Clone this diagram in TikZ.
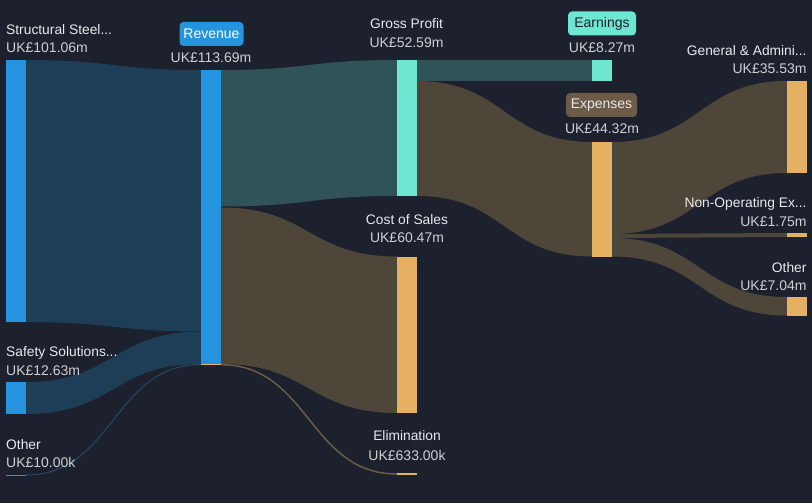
\documentclass[tikz,border=0pt]{standalone}
\usepackage{fontspec}
\setmainfont{Liberation Sans}
\definecolor{bg}{HTML}{1C212D}
\definecolor{barblue}{HTML}{2494DF}
\definecolor{barteal}{HTML}{6EE6D2}
\definecolor{barorange}{HTML}{E6B062}
\definecolor{flowblue}{HTML}{1E3D56}
\definecolor{flowteal}{HTML}{2F5356}
\definecolor{flowbrown}{HTML}{4E4639}
\definecolor{thinbrown}{HTML}{6A5C48}
\definecolor{thinblue}{HTML}{23496A}
\definecolor{badgebrown}{HTML}{6C5B46}
\definecolor{labeltext}{HTML}{E8E9EB}
\definecolor{valuetext}{HTML}{CDCFD3}
\newcommand\flowband[7]{%
  \pgfmathsetmacro\fxm{(#2+#5)/2}%
  \fill[#1] (#2,#3) .. controls (\fxm,#3) and (\fxm,#6) .. (#5,#6) -- (#5,#7)
    .. controls (\fxm,#7) and (\fxm,#4) .. (#2,#4) -- cycle;}
\tikzset{
  bar/.style={inner sep=0pt, outer sep=0pt, minimum width=20pt, anchor=north west},
  lbl/.style={inner sep=0pt, text=labeltext, font=\fontsize{13.8}{16}\selectfont, anchor=base},
  val/.style={inner sep=0pt, text=valuetext, font=\fontsize{14}{16}\selectfont, anchor=base},
  badge/.style={rounded corners=4pt, inner sep=0pt, minimum height=24pt,
    font=\fontsize{14}{16}\selectfont},
}
\begin{document}
\begin{tikzpicture}[x=1pt,y=-1pt]
\fill[bg] (0,0) rectangle (812,503);
\useasboundingbox (0,0) rectangle (812,503);
% flows
\flowband{flowblue}{26}{60}{322}{201}{70}{331.5}
\flowband{flowblue}{26}{382}{414}{201}{331.5}{364}
\draw[thinblue, line width=1pt] (26,475) .. controls (113.5,475) and (113.5,364.5) .. (201,364.5);
\flowband{flowteal}{221}{70}{206.5}{397}{60}{196}
\flowband{flowbrown}{221}{207.5}{364}{397}{256.5}{413}
\draw[thinbrown, line width=1.5pt] (221,364.7) .. controls (309,364.7) and (309,474) .. (397,474);
\flowband{flowteal}{417}{60}{81}{592}{60}{81}
\flowband{flowbrown}{417}{81}{196}{592}{142}{256.5}
\flowband{flowbrown}{612}{142}{234}{787}{81}{173}
\flowband{flowbrown}{612}{234}{238}{787}{233}{237}
\flowband{flowbrown}{612}{238}{256.5}{787}{297}{315.5}
% bars
\node[bar, fill=barblue, minimum height=262pt] (ss) at (6,60) {};
\node[bar, fill=barblue, minimum height=32pt] (safety) at (6,382) {};
\node[bar, fill=barblue, minimum height=1.2pt] (otherl) at (6,474.5) {};
\node[bar, fill=barblue, minimum height=294pt] (rev) at (201,70) {};
\node[bar, fill=barorange, minimum height=1.6pt] (revelim) at (201,363.8) {};
\node[bar, fill=barteal, minimum height=136pt] (gp) at (397,60) {};
\node[bar, fill=barorange, minimum height=156.5pt] (cos) at (397,256.5) {};
\node[bar, fill=barorange, minimum height=1.8pt] (elim) at (397,473.2) {};
\node[bar, fill=barteal, minimum height=21pt] (earn) at (592,60) {};
\node[bar, fill=barorange, minimum height=114.5pt] (exp) at (592,142) {};
\node[bar, fill=barorange, minimum height=92pt] (ga) at (787,81) {};
\node[bar, fill=barorange, minimum height=4pt] (nonop) at (787,233) {};
\node[bar, fill=barorange, minimum height=18.5pt] (otherr) at (787,297) {};
% labels
\node[lbl, anchor=base west] (tss) at (6,34.3) {Structural Steel...};
\node[val, anchor=base west] (vss) at (6,53) {UK£101.06m};
\node[lbl, anchor=base west] (tsafety) at (6,356.7) {Safety Solutions...};
\node[val, anchor=base west] (vsafety) at (6,375.3) {UK£12.63m};
\node[lbl, anchor=base west] (totherl) at (6,449) {Other};
\node[val, anchor=base west] (votherl) at (6,467.7) {UK£10.00k};
\node[badge, fill=barblue, text=white, minimum width=64pt] (trev) at (211.5,34) {Revenue};
\node[val] (vrev) at (211,63) {UK£113.69m};
\node[lbl] (tgp) at (406.5,28.3) {Gross Profit};
\node[val] (vgp) at (406.5,47.3) {UK£52.59m};
\node[lbl] (tcos) at (407,224) {Cost of Sales};
\node[val] (vcos) at (407,242.7) {UK£60.47m};
\node[lbl] (telim) at (407,440.7) {Elimination};
\node[val] (velim) at (407,460) {UK£633.00k};
\node[badge, fill=barteal, text=bg, minimum width=68pt] (tearn) at (602,23.5) {Earnings};
\node[val] (vearn) at (602,52.7) {UK£8.27m};
\node[badge, fill=badgebrown, text=labeltext, minimum width=71pt] (texp) at (601.5,105) {Expenses};
\node[val] (vexp) at (602,133.3) {UK£44.32m};
\node[lbl, anchor=base east] (tga) at (806.7,55.7) {General \& Admini...};
\node[val, anchor=base east] (vga) at (806.7,74) {UK£35.53m};
\node[lbl, anchor=base east] (tnonop) at (806.7,207.3) {Non-Operating Ex...};
\node[val, anchor=base east] (vnonop) at (806.7,226) {UK£1.75m};
\node[lbl, anchor=base east] (totherr) at (806.7,272) {Other};
\node[val, anchor=base east] (votherr) at (806.7,290.7) {UK£7.04m};
\end{tikzpicture}
\end{document}
